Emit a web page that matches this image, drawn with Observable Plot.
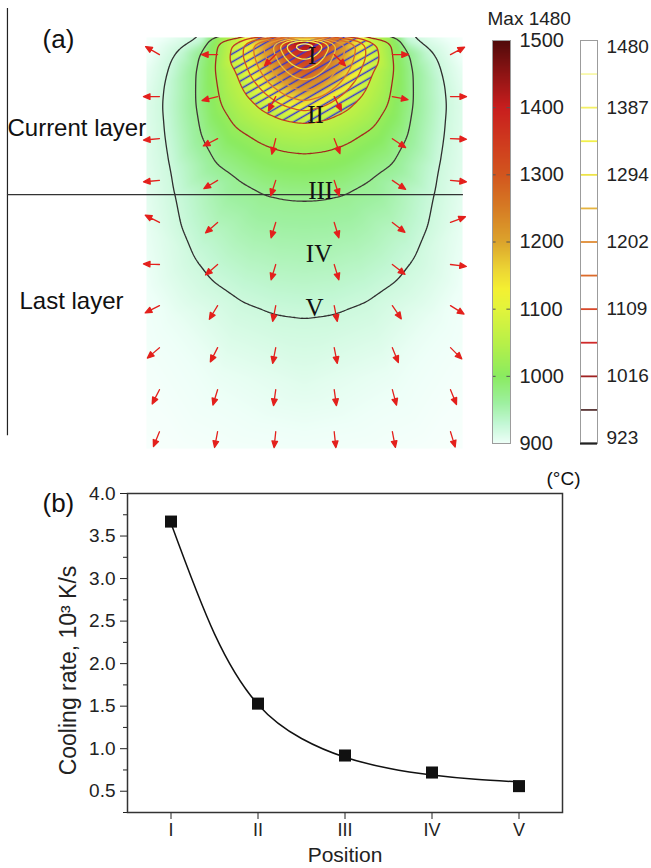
<!DOCTYPE html>
<html><head><meta charset="utf-8">
<script src="https://cdn.jsdelivr.net/npm/d3@7"></script>
<script src="https://cdn.jsdelivr.net/npm/@observablehq/plot@0.6"></script>
<style>
body{margin:0;background:#fff}
#wrap{position:relative;width:651px;height:868px;overflow:hidden;background:#fff}
</style></head><body><div id="wrap"></div>
<script>
// ---------- Panel (b) data ----------
const positions = ["I", "II", "III", "IV", "V"];
const positionIdx = [0, 1, 2, 3, 4];
const coolingRate = [3.67, 1.53, 0.92, 0.72, 0.56];
const fitPos = [0, 0.5, 1, 1.5, 2, 2.5, 3, 3.5, 4];
const fitRate = [3.65, 2.35, 1.52, 1.12, 0.90, 0.77, 0.69, 0.64, 0.61];
const yTicksB = [0.5, 1.0, 1.5, 2.0, 2.5, 3.0, 3.5, 4.0];
const yMinorB = [0.25, 0.75, 1.25, 1.75, 2.25, 2.75, 3.25, 3.75];

// ---------- Panel (a) data ----------
const isoLevels = [923, 969.4, 1015.8, 1062.3, 1108.7, 1155.1, 1201.5, 1247.9, 1294.3, 1340.8, 1387.2, 1433.6, 1480];
const isoLabels = [923, 1016, 1109, 1202, 1294, 1387, 1480];
const legendColors = ["#262626", "#5a3636", "#a02222", "#d02a2a", "#d8482a", "#dc6a2a", "#e08c34", "#e6b440", "#eee448", "#f2f04a", "#f4f066", "#f8f8aa", "#ffffff"];
const fieldLineColors = ["#2e2e2e", "#3e3434", "#a3281e", "#c83a1c", "#d4521e", "#dc6e28", "#e49432", "#eabc3c", "#f0e040", "#f4f052", "#f8f87c", "#fcfcb8", "#ffffff"];
const hatchLevel = 1062.3;
// isotherm half-profiles (x >= 0, depth y)
const iso923 = [[3.2,0],[3.6,0.19],[4.0,0.44],[4.2,0.76],[4.4,1.5],[4.45,2.2],[4.38,3.05],[4.22,4.1],[4.08,4.97],[3.88,6.0],[3.48,6.95],[2.9,7.7],[2.0,8.32],[0.95,8.73],[0,8.86]];
const iso969 = [[3.0,0],[3.3,0.5],[3.4,1.05],[3.42,2.1],[3.25,3.13],[2.78,4.0],[2.06,4.5],[1.27,4.94],[0.6,5.09],[0,5.13]];
const iso1016 = [[2.7,0],[2.83,1.03],[2.66,2.09],[2.2,2.82],[1.36,3.35],[0.7,3.58],[0,3.67]];
const iso1062 = [[2.1,0],[2.15,1.03],[1.84,1.77],[1.33,2.28],[0.7,2.56],[0,2.66]];
const iso1109 = [[1.93,0],[1.95,0.6],[1.72,1.2],[1.3,1.7],[0.75,2.1],[0,2.34]];
const iso1155 = [[1.61,0],[1.62,0.5],[1.45,1.0],[1.1,1.5],[0.6,1.85],[0,2.03]];
const iso1202 = [[1.28,0],[1.28,0.45],[1.12,0.9],[0.82,1.3],[0.45,1.58],[0,1.71]];
const iso1248 = [[0.98,0],[0.97,0.35],[0.85,0.7],[0.6,1.05],[0.32,1.26],[0,1.36]];
const iso1294 = [[0.82,0],[0.78,0.3],[0.64,0.6],[0.42,0.85],[0,1.04]];
const iso1341 = [[0.68,0],[0.62,0.25],[0.48,0.48],[0.26,0.65],[0,0.73]];
const iso1387 = [[0.52,0],[0.45,0.2],[0.3,0.35],[0,0.44]];
const iso1434 = [[0.33,0],[0.24,0.13],[0,0.22]];
const isoPeak = [[0,0]];
const isoHalf = [iso923, iso969, iso1016, iso1062, iso1109, iso1155, iso1202, iso1248, iso1294, iso1341, iso1387, iso1434, isoPeak];
// far-field temperatures [x, y, T]
const farField = [[5,0,888],[5,1,903],[5,2.2,911],[5,4,909],[5,6,904],[5,8,899],[5,10,895],[5,13,889],
  [0,13,897],[2.5,13,894],[4.0,13,891],[0,11,909],[2.6,10.6,904],[4.2,8.8,903]];
// colour map of the field
const cmapT = [880, 900, 930, 960, 1000, 1050, 1100, 1130, 1160, 1200, 1250, 1300, 1350, 1400, 1450, 1500];
const cmapC = ["#ffffff", "#eefff8", "#c2f7d4", "#9ef0a0", "#8aeb60", "#b8f048", "#e2f43c", "#f4f032", "#ecd434", "#dca42c", "#d67c24", "#d2561e", "#cf3a1e", "#c81e1e", "#8e1414", "#500a0a"];
const cbTicks = [900, 1000, 1100, 1200, 1300, 1400, 1500];
// heat-flux arrows: grid and directions (degrees clockwise from up)
const arrowX = [-4.59, -2.75, -0.91, 0.94, 2.78, 4.62];
const arrowY = [0.54, 1.87, 3.2, 4.52, 5.85, 7.18, 8.48, 9.81, 11.14, 12.47];
const arrowRot = [
  [300, 270, 225, 135, 90, 62],
  [270, 256, 207, 153, 101, 90],
  [265, 243, 194, 159, 124, 92],
  [265, 239, 198, 162, 124, 95],
  [297, 229, 197, 163, 128, 69],
  [272, 229, 197, 163, 128, 97],
  [243, 211, 191, 169, 146, 122],
  [229, 207, 191, 169, 158, 135],
  [207, 197, 188, 172, 165, 158],
  [202, 191, 186, 174, 169, 163]
];
// labels of panel (a)
const romanX = [0.24, 0.35, 0.51, 0.46, 0.32];
const romanY = [0.57, 2.44, 4.87, 6.85, 8.56];
const edgeX = -9.40, edgeTop = -0.92, edgeBottom = 12.6;
const layerY = 4.97, layerRight = 5.03;
const sideTexts = [
  {x: -8.29, y: 0.06, t: "(a)", s: 26},
  {x: -9.40, y: 2.88, t: "Current layer", s: 24},
  {x: -9.02, y: 8.35, t: "Last layer", s: 24}
];

// ---------- build tables ----------
const samples = [];
isoHalf.forEach((pts, k) => pts.forEach(([x, y]) => {
  samples.push({x, y, T: isoLevels[k]});
  if (x > 0) samples.push({x: -x, y, T: isoLevels[k]});
}));
farField.forEach(([x, y, T]) => {
  samples.push({x, y, T});
  if (x > 0) samples.push({x: -x, y, T});
});
const arrows = [];
arrowY.forEach((y, r) => arrowX.forEach((x, c) => arrows.push({x, y, r: arrowRot[r][c]})));
const romans = positions.map((t, i) => ({t, x: romanX[i], y: romanY[i]}));

const arrowShape = {
  draw(ctx, l) {
    const h = 6.5, w = 2.8;
    ctx.moveTo(0, 0); ctx.lineTo(0, -l + h);
    ctx.moveTo(-w, -l + h); ctx.lineTo(0, -l); ctx.lineTo(w, -l + h); ctx.closePath();
  }
};
const hatchDefs = () => {
  const defs = d3.create("svg:defs");
  const p = defs.append("pattern").attr("id", "hatchA").attr("patternUnits", "userSpaceOnUse")
    .attr("width", 10).attr("height", 6.9).attr("patternTransform", "rotate(-30)");
  p.append("line").attr("x1", -1).attr("x2", 11).attr("y1", 3.4).attr("y2", 3.4)
    .attr("stroke", "#3434d6").attr("stroke-width", 1.5);
  return defs.node();
};

const baseStyle = {background: "transparent", fontFamily: "Liberation Sans, Arial, sans-serif", overflow: "visible"};
const gridOpts = {x: "x", y: "y", value: "T", interpolate: "barycentric", blur: 2, x1: -5, x2: 5, y1: -0.6, y2: 13, clip: true};

const plotA = Plot.plot({
  width: 651, height: 455,
  marginLeft: 146, marginRight: 189, marginTop: 37, marginBottom: 7,
  style: baseStyle,
  x: {domain: [-5, 5], axis: null},
  y: {domain: [0, 13], reverse: true, axis: null},
  color: {type: "linear", domain: cmapT, range: cmapC, clamp: true},
  marks: [
    hatchDefs,
    Plot.raster(samples, {x: "x", y: "y", fill: "T", interpolate: "barycentric", blur: 2}),
    Plot.contour(samples, {...gridOpts, thresholds: [hatchLevel], fill: "url(#hatchA)", stroke: "none"}),
    ...isoLevels.slice(0, 12).map((L, i) => Plot.contour(samples, {...gridOpts, thresholds: [L], fill: "none", stroke: fieldLineColors[i], strokeWidth: 1.3})),
    Plot.ruleX([edgeX], {y1: edgeTop, y2: edgeBottom, stroke: "#222", strokeWidth: 1.2}),
    Plot.ruleY([layerY], {x1: edgeX, x2: layerRight, stroke: "#333", strokeWidth: 1.2}),
    Plot.vector(arrows, {x: "x", y: "y", rotate: "r", length: 16, anchor: "start", shape: arrowShape, stroke: "#e3201c", fill: "#e3201c", strokeWidth: 1.3}),
    Plot.text(romans, {x: "x", y: "y", text: "t", fontFamily: "Liberation Serif, Times New Roman, serif", fontSize: 25, fill: "#111"}),
    ...sideTexts.map(d => Plot.text([d], {x: "x", y: "y", text: "t", textAnchor: "start", fontSize: d.s, fill: "#111"}))
  ]
});

const cb1 = Plot.plot({
  width: 110, height: 455, marginLeft: 12, marginRight: 80, marginTop: 40, marginBottom: 12,
  style: baseStyle,
  x: {domain: [0, 1], axis: null},
  y: {domain: [900, 1500], axis: null},
  color: {type: "linear", domain: cmapT, range: cmapC, clamp: true},
  marks: [
    Plot.raster({fill: (x, y) => y, x1: 0, x2: 1, y1: 900, y2: 1500}),
    Plot.ruleY(cbTicks, {x1: 0, x2: 0.2, stroke: "#555"}),
    Plot.ruleY(cbTicks, {x1: 0.8, x2: 1, stroke: "#555"}),
    Plot.frame({stroke: "#9c9c9c"}),
    Plot.axisY(cbTicks, {anchor: "right", tickSize: 0, tickPadding: 9, fontSize: 20, label: null, tickFormat: d => String(d), fill: "#222"}),
    Plot.text(["Max 1480"], {frameAnchor: "top-left", dx: -5, dy: -22, textAnchor: "start", lineAnchor: "middle", fontSize: 19, fill: "#222"})
  ]
});

const cb2 = Plot.plot({
  width: 81, height: 455, marginLeft: 10, marginRight: 54, marginTop: 40, marginBottom: 12,
  style: baseStyle,
  x: {domain: [0, 1], axis: null},
  y: {domain: [923, 1480], axis: null},
  color: {type: "identity"},
  marks: [
    Plot.ruleY(isoLevels, {x1: 0, x2: 1, stroke: (d, i) => legendColors[i], strokeWidth: 1.8}),
    Plot.frame({stroke: "#9c9c9c"}),
    Plot.ruleY([isoLevels[0]], {x1: 0, x2: 1, stroke: "#222", strokeWidth: 1.8}),
    Plot.text(isoLabels.slice(1, -1), {x: 1, y: d => d, text: d => String(d), dx: 9, textAnchor: "start", fontSize: 19, fill: "#222"}),
    Plot.text([isoLabels[0]], {x: 1, y: d => d, text: d => String(d), dx: 9, dy: -6, textAnchor: "start", fontSize: 19, fill: "#222"}),
    Plot.text([isoLabels[isoLabels.length - 1]], {x: 1, y: d => d, text: d => String(d), dx: 9, dy: 6, textAnchor: "start", fontSize: 19, fill: "#222"})
  ]
});

const pts = positionIdx.map((p, i) => ({p, r: coolingRate[i]}));
const fit = fitPos.map((p, i) => ({p, r: fitRate[i]}));
const plotB = Plot.plot({
  width: 651, height: 413,
  marginLeft: 127, marginRight: 89, marginTop: 38, marginBottom: 56,
  style: {...baseStyle, fontSize: "18px", color: "#222"},
  x: {domain: [-0.5, 4.5]},
  y: {domain: [0.25, 4.0]},
  marks: [
    Plot.axisX(positionIdx, {tickSize: 7, tickPadding: 4, tickFormat: i => positions[i], label: null, fontSize: 18}),
    Plot.axisY(yTicksB, {tickSize: 7, tickPadding: 5, tickFormat: d => d.toFixed(1), label: null, fontSize: 19}),
    Plot.axisY(yMinorB, {tickSize: 4, tickFormat: () => "", label: null}),
    Plot.frame({stroke: "#333", strokeWidth: 1.5}),
    Plot.line(fit, {x: "p", y: "r", curve: "natural", stroke: "#111", strokeWidth: 1.5}),
    Plot.dot(pts, {x: "p", y: "r", symbol: "square", r: 6.8, fill: "#111", stroke: "none"}),
    Plot.text(["(b)"], {frameAnchor: "top-left", dx: -85, dy: 10, textAnchor: "start", lineAnchor: "middle", fontSize: 26, fill: "#111"}),
    Plot.text(["(°C)"], {frameAnchor: "top-right", dx: 1, dy: -15, textAnchor: "middle", lineAnchor: "middle", fontSize: 19, fill: "#111"}),
    Plot.text(["Position"], {frameAnchor: "bottom", dy: 43, textAnchor: "middle", lineAnchor: "middle", fontSize: 21, fill: "#222"}),
    Plot.text(["Cooling rate, 10³ K/s"], {frameAnchor: "left", dx: -59, dy: 17.5, rotate: -90, textAnchor: "middle", lineAnchor: "middle", fontSize: 23, fill: "#222"})
  ]
});

const wrap = document.getElementById("wrap");
[[plotA, 0, 0], [cb1, 480, 0], [cb2, 570, 0], [plotB, 0, 455]].forEach(([el, left, top]) => {
  el.style.position = "absolute";
  el.style.left = left + "px";
  el.style.top = top + "px";
  wrap.appendChild(el);
});
</script></body></html>
